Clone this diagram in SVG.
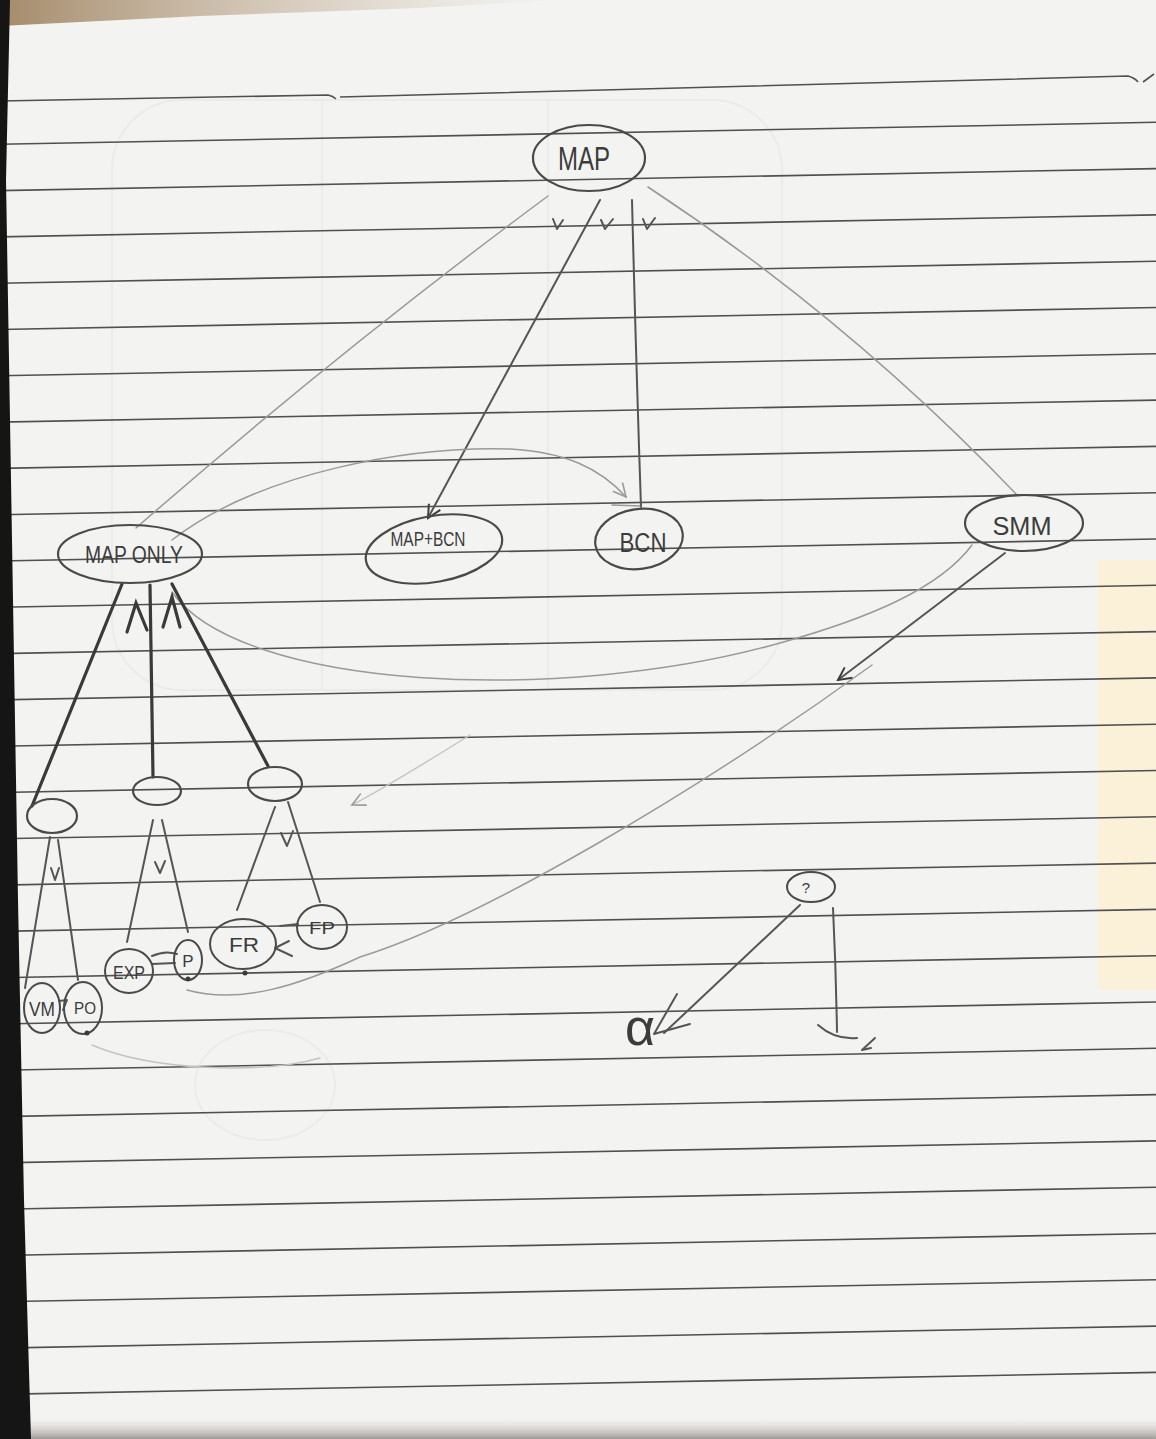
<svg xmlns="http://www.w3.org/2000/svg" width="1156" height="1439" viewBox="0 0 1156 1439">
  <defs>
    <style>
      .rule { stroke: #505050; stroke-width: 1.6; fill: none; }
      .node { fill: none; stroke: #4a4a4a; stroke-width: 2.2; }
      .leaf { fill: none; stroke: #4a4a4a; stroke-width: 2; }
      .dark { fill: none; stroke: #3a3a3a; stroke-width: 3.2; stroke-linecap: round; }
      .mid { fill: none; stroke: #555; stroke-width: 2; stroke-linecap: round; stroke-linejoin: round; }
      .light { fill: none; stroke: #9a9a9a; stroke-width: 1.5; stroke-linecap: round; }
      .faint { fill: none; stroke: #c4c4c4; stroke-width: 1.4; stroke-linecap: round; }
      .ghost { fill: none; stroke: #ebebe9; stroke-width: 2; }
      .lbl { font-family: "Liberation Sans", "DejaVu Sans", sans-serif; fill: #3c3c3c; text-anchor: middle; }
    </style>
    <marker id="arrDark" viewBox="-16 -10 18 20" refX="0" refY="0" markerWidth="18" markerHeight="20" markerUnits="userSpaceOnUse" orient="auto">
      <path d="M-13,-7 L0,0 L-13,6" fill="none" stroke="#3d3d3d" stroke-width="2"/>
    </marker>
    <marker id="arrLight" viewBox="-16 -10 18 20" refX="0" refY="0" markerWidth="18" markerHeight="20" markerUnits="userSpaceOnUse" orient="auto">
      <path d="M-13,-7 L0,0 L-13,6" fill="none" stroke="#9a9a9a" stroke-width="1.6"/>
    </marker>
    <linearGradient id="topTint" x1="0" y1="0" x2="1" y2="0">
      <stop offset="0" stop-color="#9c7f5c" stop-opacity="0.9"/>
      <stop offset="1" stop-color="#c8b49a" stop-opacity="0"/>
    </linearGradient>
    <linearGradient id="botEdge" x1="0" y1="0" x2="0" y2="1">
      <stop offset="0" stop-color="#d8d6d2" stop-opacity="0"/>
      <stop offset="1" stop-color="#8a8580" stop-opacity="0.8"/>
    </linearGradient>
  </defs>

  <!-- paper -->
  <rect x="0" y="0" width="1156" height="1439" fill="#f3f3f1"/>
  <polygon points="0,0 560,0 420,8 200,16 0,26" fill="url(#topTint)"/>
  <rect x="1098" y="560" width="58" height="430" fill="#fbf1d8"/>
  <rect x="0" y="1418" width="1156" height="21" fill="url(#botEdge)"/>

  <!-- faint bleed-through -->
  <g id="bleed">
    <rect x="112" y="100" width="670" height="590" rx="70" class="ghost"/>
    <line x1="322" y1="100" x2="322" y2="690" class="ghost"/>
    <line x1="548" y1="100" x2="548" y2="690" class="ghost"/>
    <ellipse cx="265" cy="1085" rx="70" ry="55" class="ghost"/>
  </g>

  <!-- ruled lines -->
  <g id="rules">
    <path class="rule" d="M0,101 L328,95 Q333,96 336,99"/>
    <path class="rule" d="M340,97 L1128,76 Q1135,78 1138,82"/>
    <path class="rule" d="M1143,82 L1154,74"/>
    <line class="rule" x1="0" y1="144.3" x2="1156" y2="122.3"/>
    <line class="rule" x1="0" y1="190.6" x2="1156" y2="168.6"/>
    <line class="rule" x1="0" y1="236.9" x2="1156" y2="214.9"/>
    <line class="rule" x1="0" y1="283.2" x2="1156" y2="261.2"/>
    <line class="rule" x1="0" y1="329.5" x2="1156" y2="307.5"/>
    <line class="rule" x1="0" y1="375.8" x2="1156" y2="353.8"/>
    <line class="rule" x1="0" y1="422.1" x2="1156" y2="400.1"/>
    <line class="rule" x1="0" y1="468.4" x2="1156" y2="446.4"/>
    <line class="rule" x1="0" y1="514.7" x2="1156" y2="492.7"/>
    <line class="rule" x1="0" y1="561" x2="1156" y2="539"/>
    <line class="rule" x1="0" y1="607.3" x2="1156" y2="585.3"/>
    <line class="rule" x1="0" y1="653.6" x2="1156" y2="631.6"/>
    <line class="rule" x1="0" y1="699.9" x2="1156" y2="677.9"/>
    <line class="rule" x1="0" y1="746.2" x2="1156" y2="724.2"/>
    <line class="rule" x1="0" y1="792.5" x2="1156" y2="770.5"/>
    <line class="rule" x1="0" y1="838.8" x2="1156" y2="816.8"/>
    <line class="rule" x1="0" y1="885.1" x2="1156" y2="863.1"/>
    <line class="rule" x1="0" y1="931.4" x2="1156" y2="909.4"/>
    <line class="rule" x1="0" y1="977.7" x2="1156" y2="955.7"/>
    <line class="rule" x1="0" y1="1024" x2="1156" y2="1002"/>
    <line class="rule" x1="0" y1="1070.3" x2="1156" y2="1048.3"/>
    <line class="rule" x1="0" y1="1116.6" x2="1156" y2="1094.6"/>
    <line class="rule" x1="0" y1="1162.9" x2="1156" y2="1140.9"/>
    <line class="rule" x1="0" y1="1209.2" x2="1156" y2="1187.2"/>
    <line class="rule" x1="0" y1="1255.5" x2="1156" y2="1233.5"/>
    <line class="rule" x1="0" y1="1301.8" x2="1156" y2="1279.8"/>
    <line class="rule" x1="0" y1="1348.1" x2="1156" y2="1326.1"/>
    <line class="rule" x1="0" y1="1394.4" x2="1156" y2="1372.4"/>
  </g>

  <!-- connectors -->
  <g id="connectors">
    <!-- from MAP -->
    <path class="light" d="M548,196 Q340,350 136,528"/>
    <path class="mid" d="M600,200 L428,518" marker-end="url(#arrDark)"/>
    <path class="mid" stroke="#6a6a6a" d="M632,200 Q636,360 641,507"/>
    <path class="light" d="M648,187 Q850,320 1018,496"/>
    <!-- check marks under MAP -->
    <path class="mid" d="M553,219 L557,229 L563,220"/>
    <path class="mid" d="M601,220 L605,229 L613,219"/>
    <path class="mid" d="M643,219 L647,229 L655,218"/>
    <!-- MAP ONLY -> BCN faint curve -->
    <path class="light" d="M172,540 C 260,472 410,446 510,449 C 565,452 600,468 626,497" marker-end="url(#arrLight)"/>
    <path class="light" d="M612,505 L640,506"/>
    <!-- MAP ONLY -> SMM faint curve -->
    <path class="light" d="M172,592 C 240,690 560,705 780,643 C 870,618 940,588 972,545"/>
    <!-- SMM -> down-left arrow -->
    <path class="mid" stroke="#444" d="M1005,553 L838,680" marker-end="url(#arrDark)"/>
    <!-- faint long curve towards lower-left subtree -->
    <path class="light" d="M872,665 C 700,790 480,920 360,957 C 300,985 240,1005 187,990"/>
    <path class="faint" d="M470,735 C 430,760 390,785 352,805" marker-end="url(#arrLight)"/>
    <path class="faint" d="M92,1045 C 150,1070 260,1075 320,1058"/>

    <!-- MAP ONLY -> three sub nodes -->
    <path class="dark" d="M122,584 L32,806"/>
    <path class="dark" d="M150,585 L153,777"/>
    <path class="dark" d="M172,584 L268,766"/>
    <path class="dark" d="M127,632 L136,603 L147,630"/>
    <path class="dark" d="M163,627 L172,597 L180,627"/>

    <!-- sub1 children -->
    <path class="mid" stroke="#6a6a6a" d="M50,837 L25,988"/>
    <path class="mid" stroke="#6a6a6a" d="M58,840 L78,980"/>
    <path class="mid" d="M51,868 L55,880 L59,868"/>
    <!-- sub2 children -->
    <path class="mid" d="M153,820 L127,942"/>
    <path class="mid" d="M162,820 L188,932"/>
    <path class="mid" stroke-width="2.4" d="M155,862 L160,873 L165,861"/>
    <!-- sub3 children -->
    <path class="mid" stroke-width="2.4" d="M275,807 L237,910"/>
    <path class="mid" stroke-width="2.4" d="M288,802 L320,902"/>
    <path class="mid" stroke-width="2.6" d="M281,833 L287,846 L293,831"/>

    <!-- leaf links -->
    <path class="mid" d="M59,1001 L67,1000 L63,1010"/>
    <path class="mid" d="M152,956 Q165,950 177,954"/>
    <path class="mid" d="M152,964 L175,963"/>
    <path class="mid" d="M280,926 L298,924"/>
    <path class="mid" d="M289,941 L275,948 L292,956"/>
  </g>

  <!-- nodes -->
  <g id="n-map">
    <ellipse class="node" cx="589" cy="158" rx="56" ry="33"/>
    <text class="lbl" x="584" y="170" font-size="34" textLength="52" lengthAdjust="spacingAndGlyphs">MAP</text>
  </g>
  <g id="n-maponly">
    <ellipse class="node" cx="130" cy="554" rx="72" ry="29"/>
    <text class="lbl" x="134" y="563" font-size="23" textLength="98" lengthAdjust="spacingAndGlyphs">MAP ONLY</text>
  </g>
  <g id="n-mapbcn">
    <ellipse class="node" cx="434" cy="549" rx="69" ry="33" transform="rotate(-10 434 549)" stroke="#5a5a5a"/>
    <text class="lbl" x="428" y="546" font-size="21" textLength="75" lengthAdjust="spacingAndGlyphs">MAP+BCN</text>
  </g>
  <g id="n-bcn">
    <ellipse class="node" cx="639" cy="539" rx="44" ry="30" transform="rotate(-8 639 539)" stroke="#5a5a5a"/>
    <text class="lbl" x="643" y="552" font-size="27" textLength="47" lengthAdjust="spacingAndGlyphs">BCN</text>
  </g>
  <g id="n-smm">
    <ellipse class="node" cx="1024" cy="523" rx="59" ry="28"/>
    <text class="lbl" x="1022" y="535" font-size="25" textLength="59" lengthAdjust="spacingAndGlyphs">SMM</text>
  </g>
  <g id="n-sub1">
    <ellipse class="node" cx="52" cy="816" rx="25" ry="17"/>
  </g>
  <g id="n-sub2">
    <ellipse class="node" cx="157" cy="791" rx="24" ry="14"/>
  </g>
  <g id="n-sub3">
    <ellipse class="node" cx="275" cy="784" rx="27" ry="17"/>
  </g>
  <g id="n-vm">
    <ellipse class="leaf" cx="42" cy="1008" rx="18" ry="25"/>
    <text class="lbl" x="42" y="1016" font-size="20" textLength="26" lengthAdjust="spacingAndGlyphs">VM</text>
  </g>
  <g id="n-po">
    <ellipse class="leaf" cx="83" cy="1008" rx="19" ry="26"/>
    <text class="lbl" x="85" y="1014" font-size="17" textLength="22" lengthAdjust="spacingAndGlyphs">PO</text>
    <circle cx="87" cy="1033" r="2.5" fill="#3a3a3a"/>
  </g>
  <g id="n-exp">
    <ellipse class="leaf" cx="129" cy="971" rx="24" ry="22"/>
    <text class="lbl" x="129" y="979" font-size="18" textLength="32" lengthAdjust="spacingAndGlyphs">EXP</text>
  </g>
  <g id="n-p">
    <ellipse class="leaf" cx="188" cy="960" rx="14" ry="20"/>
    <text class="lbl" x="188" y="967" font-size="17">P</text>
    <circle cx="188" cy="979" r="2.5" fill="#3a3a3a"/>
  </g>
  <g id="n-fr">
    <ellipse class="leaf" cx="243" cy="944" rx="33" ry="25"/>
    <text class="lbl" x="244" y="952" font-size="21" textLength="30" lengthAdjust="spacingAndGlyphs">FR</text>
    <circle cx="245" cy="973" r="2.5" fill="#3a3a3a"/>
  </g>
  <g id="n-fp">
    <ellipse class="leaf" cx="322" cy="927" rx="25" ry="22"/>
    <text class="lbl" x="322" y="934" font-size="17" textLength="26" lengthAdjust="spacingAndGlyphs">FP</text>
  </g>

  <!-- bottom right sketch -->
  <g id="n-q">
    <ellipse class="leaf" cx="811" cy="887" rx="24" ry="15"/>
    <text class="lbl" x="806" y="893" font-size="15">?</text>
  </g>
  <g id="sketch-right">
    <path class="mid" stroke="#666" d="M800,905 L664,1033"/>
    <path class="mid" stroke="#666" d="M677,994 L654,1034 L690,1024"/>
    <text class="lbl" x="640" y="1045" font-size="52" font-family="Liberation Serif, serif">α</text>
    <path class="mid" stroke="#666" d="M833,908 Q836,970 837,1032"/>
    <path class="mid" d="M818,1025 Q835,1040 857,1038"/>
    <path class="mid" d="M875,1038 L862,1050 L871,1048"/>
  </g>

  <!-- left page edge -->
  <polygon points="0,0 10,0 6,180 12,540 18,900 24,1200 31,1439 0,1439" fill="#151515"/>
</svg>
